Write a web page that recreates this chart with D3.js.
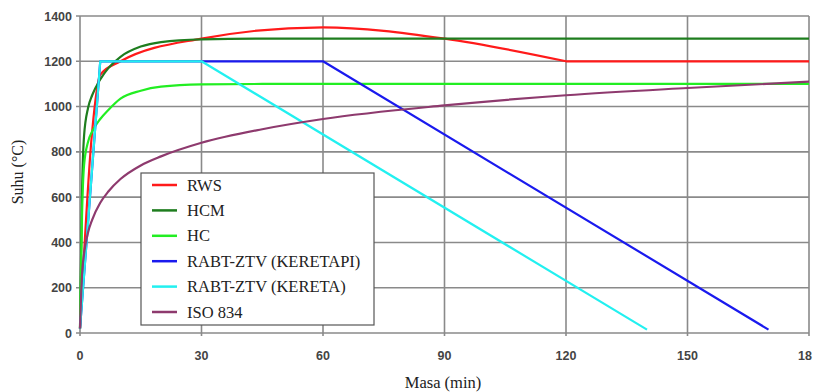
<!DOCTYPE html>
<html>
<head>
<meta charset="utf-8">
<script src="https://cdn.jsdelivr.net/npm/d3@7"></script>
<style>
  body { margin: 0; background: #fff; }
  svg { display: block; }
  .serif { font-family: "Liberation Serif", "Times New Roman", Tinos, "DejaVu Serif", serif; }
  .tick { font-family: "Liberation Sans", Arial, sans-serif; }
</style>
</head>
<body>
<svg id="chart" width="825" height="392"></svg>
<script>
// minutes / degrees C
var rws = [[0,20],[3,890],[5,1140],[10,1200],[30,1300],[60,1350],[90,1300],[120,1200],[180,1200]];
var hcm = [[0,20],[0.5,620],[1,870],[2,995],[3,1050],[5,1120],[7,1170],[10,1220],[15,1265],[20,1285],[30,1297],[45,1300],[180,1300]];
var hc = [[0,20],[0.5,520],[1,740],[2,845],[3,890],[5,945],[7,985],[10,1035],[15,1070],[20,1088],[30,1098],[45,1100],[180,1100]];
var rabtTrain = [[0,20],[5,1200],[60,1200],[170,15]];
var rabtCar = [[0,20],[5,1200],[30,1200],[140,15]];
var iso834 = [[0,20],[0.5,260],[1,350],[2,445],[3,500],[5,575],[7,625],[10,680],[15,740],[20,780],[30,840],[45,900],[60,945],[90,1005],[120,1050],[150,1082],[180,1110]];

var seriesNames = ['RWS','HCM','HC','RABT-ZTV (KERETAPI)','RABT-ZTV (KERETA)','ISO 834'];
var seriesColors = ['#ff1a1a','#1e7d1e','#22ee22','#1a1aee','#22f0f0','#8e3a6e'];
var seriesData = [rws, hcm, hc, rabtTrain, rabtCar, iso834];

var xTicks = [0,30,60,90,120,150,180];
var xTickLabels = ['0','30','60','90','120','150','18'];
var yTicks = [0,200,400,600,800,1000,1200,1400];

var svg = d3.select('#chart');
var pLeft = 80, pRight = 809, pTop = 16, pBottom = 333;

var x = d3.scaleLinear().domain([0,180]).range([pLeft,pRight]);
var y = d3.scaleLinear().domain([0,1400]).range([pBottom,pTop]);

var grid = svg.append('g');
// horizontal gridlines with small outside ticks
grid.selectAll('.hg').data(yTicks).enter().append('line')
  .attr('x1', pLeft - 4).attr('x2', pRight)
  .attr('y1', d => y(d)).attr('y2', d => y(d))
  .style('stroke', '#8a8a8a').style('stroke-width', 1.6);
grid.selectAll('.vg').data(xTicks).enter().append('line')
  .attr('x1', d => x(d)).attr('x2', d => x(d))
  .attr('y1', pTop).attr('y2', pBottom + 3)
  .style('stroke', '#8a8a8a').style('stroke-width', 1.6);

svg.selectAll('.yl').data(yTicks).enter().append('text')
  .attr('class', 'tick')
  .attr('x', pLeft - 8).attr('y', d => y(d) + 4.5)
  .attr('text-anchor', 'end')
  .style('font-size', '12.5px').style('font-weight', 'bold')
  .style('fill', '#444')
  .text(d => d);

svg.selectAll('.xl').data(xTicks).enter().append('text')
  .attr('class', 'tick')
  .attr('x', (d, i) => x(d) + (xTickLabels[i] === '18' ? -4 : 0))
  .attr('y', 360)
  .attr('text-anchor', 'middle')
  .style('font-size', '12.5px').style('font-weight', 'bold')
  .style('fill', '#444')
  .text((d, i) => xTickLabels[i]);

var smooth = d3.line()
  .x(d => x(d[0])).y(d => y(d[1]))
  .curve(d3.curveMonotoneX);
var straight = d3.line().x(d => x(d[0])).y(d => y(d[1]));

// RWS: smooth up to 120 min, then the flat hold
function pathFor(d, i) {
  if (i === 3 || i === 4) return straight(d);
  if (i === 0) {
    var a = d.filter(p => p[0] <= 120), b = d.filter(p => p[0] >= 120);
    return smooth(a) + straight(b).replace(/^M/, 'L');
  }
  return smooth(d);
}

svg.selectAll('.series').data(seriesData).enter().append('path')
  .attr('d', pathFor)
  .style('fill', 'none')
  .style('stroke', (d, i) => seriesColors[i])
  .style('stroke-width', 2.2)
  .style('stroke-linejoin', 'round');

// legend
var lg = svg.append('g');
lg.append('rect')
  .attr('x', 141).attr('y', 173).attr('width', 233).attr('height', 152)
  .style('fill', '#fff').style('stroke', '#555').style('stroke-width', 1.2);
var rowY = d3.scalePoint().domain(seriesNames).range([185, 312]);
lg.selectAll('.ll').data(seriesNames).enter().append('line')
  .attr('x1', 152).attr('x2', 177)
  .attr('y1', d => rowY(d)).attr('y2', d => rowY(d))
  .style('stroke', (d, i) => seriesColors[i]).style('stroke-width', 2.5);
lg.selectAll('.lt').data(seriesNames).enter().append('text')
  .attr('class', 'serif')
  .attr('x', 187).attr('y', d => rowY(d) + 5.5)
  .style('font-size', '16.5px').style('fill', '#222')
  .text(d => d);

svg.append('text')
  .attr('class', 'serif')
  .attr('transform', 'translate(23,172) rotate(-90)')
  .attr('text-anchor', 'middle')
  .style('font-size', '16px').style('fill', '#222')
  .text('Suhu (°C)');

svg.append('text')
  .attr('class', 'serif')
  .attr('x', 443).attr('y', 388)
  .attr('text-anchor', 'middle')
  .style('font-size', '16.5px').style('fill', '#222')
  .text('Masa (min)');
</script>
</body>
</html>
